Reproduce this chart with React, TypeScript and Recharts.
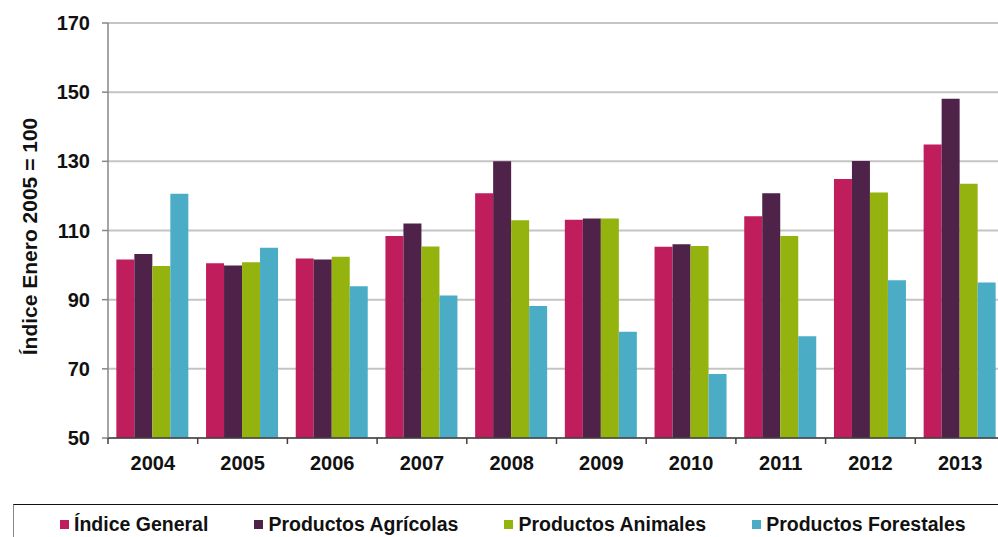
import React from 'react';
import { BarChart, Bar, XAxis, YAxis, CartesianGrid, Legend } from 'recharts';

const years = ['2004', '2005', '2006', '2007', '2008', '2009', '2010', '2011', '2012', '2013'];
const indiceGeneral = [101.6, 100.5, 101.9, 108.4, 120.8, 113.1, 105.3, 114.1, 124.9, 134.9];
const productosAgricolas = [103.2, 99.9, 101.6, 112.0, 130.0, 113.5, 106.0, 120.8, 130.1, 148.1];
const productosAnimales = [99.7, 100.8, 102.4, 105.4, 113.0, 113.5, 105.5, 108.4, 121.0, 123.5];
const productosForestales = [120.6, 105.0, 93.9, 91.2, 88.2, 80.7, 68.5, 79.4, 95.6, 95.0];
const yTicks = [50, 70, 90, 110, 130, 150, 170];

const seriesNames = ['Índice General', 'Productos Agrícolas', 'Productos Animales', 'Productos Forestales'];
const seriesKeys = ['general', 'agricolas', 'animales', 'forestales'];
const seriesColors = ['#C01D5C', '#4F2249', '#94B30F', '#4BACC6'];

const data = years.map((y, i) => ({
  year: y,
  general: indiceGeneral[i],
  agricolas: productosAgricolas[i],
  animales: productosAnimales[i],
  forestales: productosForestales[i],
}));

const FONT = '"Liberation Sans", Arial, Helvetica, sans-serif';

const XTick = (props: any) => {
  const { x, y, payload } = props;
  const off = payload && payload.offset ? payload.offset : 0;
  return (
    <g>
      <line x1={x - off} x2={x - off} y1={y} y2={y + 6} stroke="#404040" strokeWidth={1.5} />
      <text
        x={x}
        y={y + 18}
        dy="0.71em"
        textAnchor="middle"
        fontFamily={FONT}
        fontWeight="bold"
        fontSize={20}
        fill="#111"
      >
        {payload.value}
      </text>
    </g>
  );
};

const YLabel = (props: any) => {
  const vb = props.viewBox || { x: 0, y: 23, width: 108, height: 415 };
  const cx = vb.x + 37;
  const cy = vb.y + vb.height / 2 + 6;
  return (
    <text
      x={cx}
      y={cy}
      transform={`rotate(-90, ${cx}, ${cy})`}
      textAnchor="middle"
      fontFamily={FONT}
      fontWeight="bold"
      fontSize={21}
      fill="#111"
    >
      Índice Enero 2005 = 100
    </text>
  );
};

const LegendContent = () => (
  <div
    style={{
      boxSizing: 'border-box',
      width: '100%',
      borderTop: '1.5px solid #111',
      borderLeft: '1.5px solid #888',
      paddingTop: 6,
      paddingLeft: 46,
      display: 'flex',
      flexDirection: 'row',
      alignItems: 'center',
      height: 33,
      fontFamily: FONT,
      fontWeight: 'bold',
      fontSize: 19.5,
      lineHeight: '22px',
      color: '#111',
      whiteSpace: 'nowrap',
    } as any}
  >
    {seriesNames.map((n, i) => (
      <div
        key={n}
        style={{ display: 'flex', alignItems: 'center', marginRight: 46 }}
      >
        <span
          style={{
            display: 'inline-block',
            width: 9,
            height: 9,
            background: seriesColors[i],
            marginRight: 5,
          }}
        />
        <span>{n}</span>
      </div>
    ))}
  </div>
);

export default function App() {
  return (
    <div
      style={{
        position: 'absolute',
        left: 0,
        top: 0,
        width: 998,
        height: 537,
        overflow: 'hidden',
        background: '#fff',
      }}
    >
      <BarChart
        width={1010}
        height={537}
        data={data}
        margin={{ top: 23, right: 5, left: 0, bottom: 26 }}
        barCategoryGap="9.3%"
        barGap={0}
      >
        <CartesianGrid vertical={false} stroke="#c4c4c4" strokeWidth={2} />
        <XAxis
          dataKey="year"
          height={40}
          tickLine={false}
          tickSize={0}
          tickMargin={0}
          axisLine={{ stroke: '#404040', strokeWidth: 1.5 }}
          tick={<XTick />}
          interval={0}
        />
        <YAxis
          width={108}
          domain={[50, 170]}
          ticks={yTicks}
          interval={0}
          tickSize={6}
          tickMargin={12}
          axisLine={{ stroke: '#868686', strokeWidth: 1.5 }}
          tickLine={{ stroke: '#868686', strokeWidth: 1.5 }}
          tick={{ fontFamily: FONT, fontWeight: 'bold', fontSize: 20, fill: '#111' }}
          label={<YLabel />}
        />
        <Legend
          content={<LegendContent />}
          verticalAlign="bottom"
          wrapperStyle={{ position: 'absolute', left: 13, top: 504, width: 1000, height: 33, margin: 0, padding: 0 }}
        />
        {seriesKeys.map((k, i) => (
          <Bar
            key={k}
            dataKey={k}
            name={seriesNames[i]}
            fill={seriesColors[i]}
            isAnimationActive={false}
          />
        ))}
      </BarChart>
    </div>
  );
}
